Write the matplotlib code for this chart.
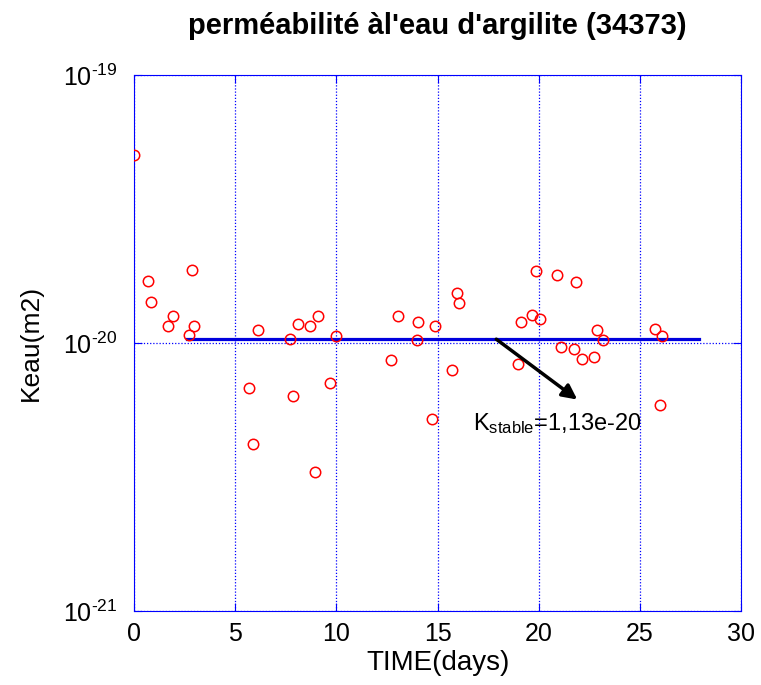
import matplotlib
matplotlib.use('Agg')
import matplotlib.pyplot as plt
from matplotlib.ticker import FuncFormatter, NullLocator
import numpy as np

plt.rcParams['font.family'] = ['Liberation Sans', 'DejaVu Sans']
plt.rcParams['mathtext.fontset'] = 'custom'
plt.rcParams['mathtext.rm'] = 'Liberation Sans'
plt.rcParams['mathtext.it'] = 'Liberation Sans'
plt.rcParams['mathtext.default'] = 'regular'

# Data (days, Keau in m2)
days = [0, 0.71, 0.86, 1.70, 1.94, 2.70, 2.85, 2.95, 5.70, 5.87, 6.11,
        7.71, 7.84, 8.12, 8.70, 8.95, 9.11, 9.69, 9.97, 12.69, 13.05,
        13.96, 14.02, 14.72, 14.88, 15.70, 15.95, 16.05, 18.97, 19.11,
        19.67, 19.87, 20.07, 20.89, 21.11, 21.72, 21.86, 22.15, 22.72,
        22.87, 23.15, 25.72, 25.97, 26.08]
keau_e20 = [5.04, 1.71, 1.43, 1.16, 1.26, 1.07, 1.87, 1.16, 0.679, 0.421, 1.12,
            1.04, 0.635, 1.18, 1.16, 0.329, 1.26, 0.711, 1.06, 0.863, 1.26,
            1.03, 1.20, 0.519, 1.16, 0.797, 1.54, 1.41, 0.837, 1.20,
            1.27, 1.86, 1.23, 1.79, 0.970, 0.951, 1.69, 0.875, 0.887,
            1.12, 1.03, 1.13, 0.589, 1.06]
keau = [v * 1e-20 for v in keau_e20]

xticks = [0, 5, 10, 15, 20, 25, 30]
yticks = [1e-21, 1e-20, 1e-19]

# stable level line and annotation
stable_days = [2.62, 27.9]
stable_level = 1.035e-20
arrow_start = (17.9, 1.035e-20)
arrow_end = (21.9, 6.16e-21)
label_pos = (16.75, 5.0e-21)

fig = plt.figure(figsize=(7.61, 6.85), dpi=100)
ax = fig.add_axes([0.176, 0.108, 0.798, 0.782])

ax.plot(days, keau, 'o', mfc='none', mec='red', ms=7.5, mew=1.1, zorder=3)
ax.plot(stable_days, [stable_level, stable_level], color='#0000dd', lw=2.3, zorder=2)
ax.annotate('', xy=arrow_end, xytext=arrow_start,
            arrowprops=dict(arrowstyle='-|>', color='black', lw=2.5,
                            mutation_scale=22, shrinkA=0, shrinkB=0))
ax.text(label_pos[0], label_pos[1], r'K$_{\mathrm{stable}}$=1,13e-20',
        fontsize=17, va='center', ha='left')

ax.set_yscale('log')
ax.set_xlim(0, 30)
ax.set_ylim(1e-21, 1e-19)
ax.set_xticks(xticks)
ax.set_yticks(yticks)
ax.yaxis.set_major_formatter(FuncFormatter(
    lambda v, p: r'10$^{\text{%d}}$' % int(round(np.log10(v)))))
ax.yaxis.set_minor_locator(NullLocator())

for s in ax.spines.values():
    s.set_color('blue')
ax.tick_params(axis='both', which='both', direction='in', colors='blue',
               labelcolor='black', labelsize=18, top=True, right=True, length=6)
ax.tick_params(axis='x', pad=8)
ax.tick_params(axis='y', pad=12)
ax.grid(True, which='major', color='blue', linestyle=(0, (1, 1.5)), linewidth=0.9)

ax.set_xlabel('TIME(days)', fontsize=20, labelpad=3)
ax.set_ylabel('Keau(m2)', fontsize=19, labelpad=14)
ax.set_title("perméabilité àl'eau d'argilite (34373)", fontsize=21,
             fontweight='bold', pad=30)

fig.savefig('out.png', dpi=100)
